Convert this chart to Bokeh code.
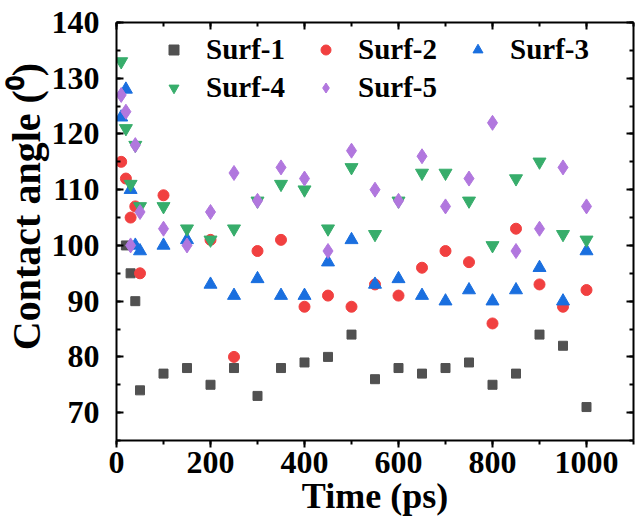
from bokeh.plotting import figure
from bokeh.models import LinearAxis, SingleIntervalTicker, Range1d, Legend, LegendItem
from bokeh.embed import file_html
from bokeh.resources import INLINE

# ---- data ----
time_surf1 = [20, 30, 40, 50, 100, 150, 200, 250, 300, 350, 400, 450, 500, 550, 600, 650, 700, 750, 800, 850, 900, 950, 1000]
surf1 = [100, 95, 90, 74, 77, 78, 75, 78, 73, 78, 79, 80, 84, 76, 78, 77, 78, 79, 75, 77, 84, 82, 71]

time_surf2 = [10, 20, 30, 40, 50, 100, 200, 250, 300, 350, 400, 450, 500, 550, 600, 650, 700, 750, 800, 850, 900, 950, 1000]
surf2 = [115, 112, 105, 107, 95, 109, 101, 80, 99, 101, 89, 91, 89, 93, 91, 96, 99, 97, 86, 103, 93, 89, 92]

time_all = [10, 20, 30, 40, 50, 100, 150, 200, 250, 300, 350, 400, 450, 500, 550, 600, 650, 700, 750, 800, 850, 900, 950, 1000]
surf3 = [123, 128, 110, 100, 99, 100, 101, 93, 91, 94, 91, 91, 97, 101, 93, 94, 91, 90, 92, 90, 92, 96, 90, 99]
surf4 = [133, 121, 111, 118, 107, 107, 103, 101, 103, 108, 111, 110, 103, 114, 102, 108, 113, 113, 108, 100, 112, 115, 102, 101]
surf5 = [127, 124, 100, 118, 106, 103, 100, 106, 113, 108, 114, 112, 99, 117, 110, 108, 116, 107, 112, 122, 99, 103, 114, 107]

names = ["Surf-1", "Surf-2", "Surf-3", "Surf-4", "Surf-5"]
colors = ["#515151", "#F14040", "#1A6FDF", "#37AD6B", "#B177DE"]

x_ticks_interval = 200
y_ticks_interval = 10

FONT = "Liberation Serif"

p = figure(width=636, height=520, output_backend="svg", toolbar_location=None,
           x_range=Range1d(0, 1100), y_range=Range1d(65, 140),
           min_border_left=115, min_border_right=3, min_border_top=22, min_border_bottom=80,
           background_fill_color="white", border_fill_color="white")
p.grid.visible = False
p.outline_line_color = None

def style_axis(ax, inward, labels=True):
    ax.axis_line_width = 2
    ax.axis_line_color = "black"
    ax.major_tick_line_width = 2
    ax.minor_tick_line_width = 2
    ax.major_tick_line_color = "black"
    ax.minor_tick_line_color = "black"
    if inward:
        ax.major_tick_in = 7
        ax.major_tick_out = 0
        ax.minor_tick_in = 4
        ax.minor_tick_out = 0
    else:
        ax.major_tick_in = 0
        ax.major_tick_out = 7
        ax.minor_tick_in = 0
        ax.minor_tick_out = 4
    if labels:
        ax.major_label_text_font = FONT
        ax.major_label_text_font_style = "bold"
        ax.major_label_text_font_size = "32px"
        ax.major_label_text_color = "black"
    else:
        ax.major_label_text_font_size = "0px"
        ax.major_label_text_color = None
        ax.major_label_standoff = 0

xticker = SingleIntervalTicker(interval=x_ticks_interval, num_minor_ticks=2)
yticker = SingleIntervalTicker(interval=y_ticks_interval, num_minor_ticks=2)

xa = p.xaxis[0]
xa.ticker = xticker
style_axis(xa, inward=False)
xa.major_label_standoff = 4
xa.axis_label = "Time (ps)"
xa.axis_label_text_font = FONT
xa.axis_label_text_font_style = "bold"
xa.axis_label_text_font_size = "36px"
xa.axis_label_text_color = "black"
xa.axis_label_standoff = 0

ya = p.yaxis[0]
ya.ticker = yticker
style_axis(ya, inward=True)
ya.major_label_standoff = 17
ya.axis_label = "\u00a0\u00a0\u00a0\u00a0\u00a0Contact angle (\u2070)"
ya.axis_label_text_font = FONT
ya.axis_label_text_font_style = "bold"
ya.axis_label_text_font_size = "40px"
ya.axis_label_text_color = "black"
ya.axis_label_standoff = 0

top = LinearAxis(ticker=SingleIntervalTicker(interval=x_ticks_interval, num_minor_ticks=2))
style_axis(top, inward=True, labels=False)
p.add_layout(top, "above")
right = LinearAxis(ticker=SingleIntervalTicker(interval=y_ticks_interval, num_minor_ticks=2))
style_axis(right, inward=True, labels=False)
p.add_layout(right, "right")

r1 = p.scatter(time_surf1, surf1, marker="square", size=9, color=colors[0])
r2 = p.scatter(time_surf2, surf2, marker="circle", size=11, color=colors[1])
r3 = p.scatter(time_all, surf3, marker="triangle", size=13, color=colors[2])
r4 = p.scatter(time_all, surf4, marker="inverted_triangle", size=13, color=colors[3])
r5 = p.scatter(time_all, surf5, marker="diamond", size=15, color=colors[4])

legend = Legend(items=[LegendItem(label=n, renderers=[r]) for n, r in zip(names, [r1, r2, r3, r4, r5])],
                orientation="horizontal", ncols=3,
                location=(45, 336), padding=0, margin=0, spacing=5,
                glyph_width=25, glyph_height=25, label_height=25, label_width=102,
                label_standoff=20,
                label_text_font=FONT, label_text_font_style="bold", label_text_font_size="29px",
                label_text_color="black",
                border_line_color=None, background_fill_alpha=0)
p.add_layout(legend)

open("out.html", "w").write(file_html(p, INLINE))
